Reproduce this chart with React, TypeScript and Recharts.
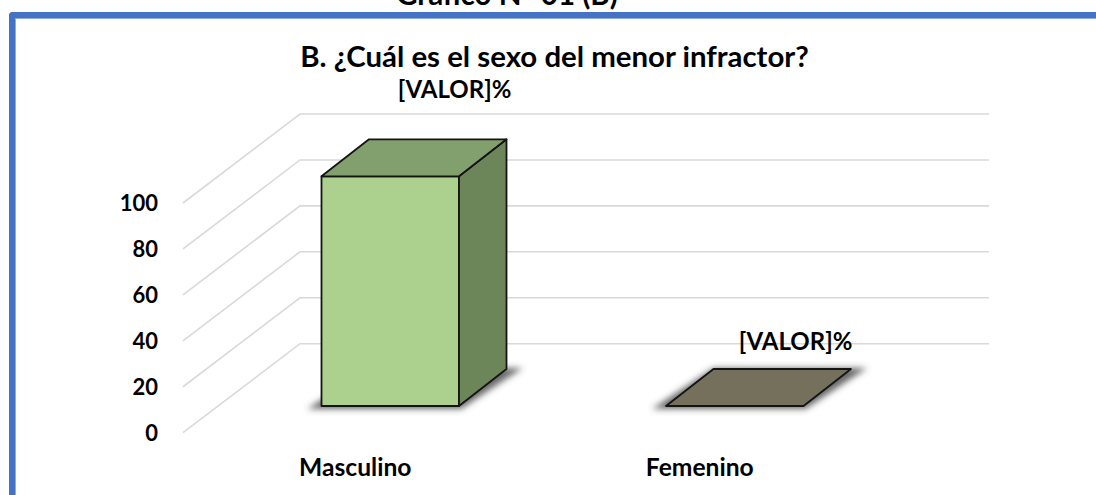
import { Bar, BarChart, CartesianGrid, LabelList, XAxis, YAxis } from 'recharts'

const categories = ['Masculino', 'Femenino']
const values = [100, 0]
const barColors = ['#acd18e', '#75705c']
const yTicks = [0, 20, 40, 60, 80, 100]
const labelText = '[VALOR]%'
// the labels were dragged by hand in the original, so each has its own offset
const labelShiftX = [133, 129.5]
const labelShiftY = [-88, -66]

const chartData = categories.map((name, i) => ({ name, value: values[i], color: barColors[i] }))

// fake 3D: how far the back wall sits from the front plane
const WALL_DX = 117
const WALL_DY = 89
// where the bars stand on the floor, and how deep they are
const BAR_DX = 34.5
const BAR_DY = 26.7
const DEPTH_DX = 47.5
const DEPTH_DY = 37

const FONT = 'Lato, "Open Sans", sans-serif'

function wallLine(props: any) {
  const { x1, y1, x2 } = props
  return (
    <polyline
      key={props.key ?? y1}
      points={`${x1},${y1} ${x1 + WALL_DX},${y1 - WALL_DY} ${x2 + WALL_DX},${y1 - WALL_DY}`}
      fill="none"
      stroke="#d9d9d9"
      strokeWidth={1.6}
    />
  )
}

function Box3D(props: any) {
  const { x, y, width, height, payload } = props
  const left = x + BAR_DX
  const right = left + width
  const top = y - BAR_DY
  const bottom = top + height
  const dx = DEPTH_DX
  const dy = DEPTH_DY
  const flat = height < 1
  const floor = `${left - 14},${bottom + 3} ${right + 2},${bottom + 3} ${right + dx + 16},${bottom - dy - 1} ${left + dx},${bottom - dy - 1}`
  return (
    <g stroke="#141414" strokeWidth={1.8} strokeLinejoin="round">
      <polygon points={floor} fill="#444" fillOpacity={0.8} stroke="none" filter="url(#boxShadow)" />
      {!flat && <rect x={left} y={top} width={width} height={height} fill={payload.color} />}
      {!flat && (
        <polygon
          points={`${right},${top} ${right + dx},${top - dy} ${right + dx},${bottom - dy} ${right},${bottom}`}
          fill="#6c8559"
        />
      )}
      <polygon
        points={`${left},${top} ${right},${top} ${right + dx},${top - dy} ${left + dx},${top - dy}`}
        fill={flat ? payload.color : '#82a06e'}
      />
    </g>
  )
}

function ValueLabel(props: any) {
  const { x, y, index } = props
  // the bar starts BAR_DX right of its band slot, shift values are from the slot's front corner
  return (
    <text
      x={x + BAR_DX + labelShiftX[index]}
      y={y - BAR_DY + labelShiftY[index]}
      textAnchor="middle"
      dominantBaseline="central"
      fontFamily={FONT}
      fontWeight={700}
      fontSize={24}
      fill="#000"
    >
      {labelText}
    </text>
  )
}

export default function App() {
  return (
    <div style={{ position: 'fixed', left: 0, top: 0, width: 1096, height: 495, overflow: 'hidden', background: '#fff' }}>
      <div
        style={{
          position: 'absolute',
          left: 0,
          right: 0,
          top: -24,
          textAlign: 'center',
          paddingRight: 82,
          fontFamily: FONT,
          fontWeight: 700,
          fontSize: 29.5,
          color: '#000',
        }}
      >
        Gráfico N° 01 (B)
      </div>
      <div
        style={{
          position: 'absolute',
          left: 9,
          top: 12,
          width: 1200,
          height: 600,
          boxSizing: 'border-box',
          borderLeft: '6px solid #4472c4',
          borderTop: '6px solid #4472c4',
          borderTopLeftRadius: 4,
          boxShadow: 'inset 1px 1px 0 #8faadc',
        }}
      />
      <div
        style={{
          position: 'absolute',
          left: 0,
          right: 0,
          top: 38,
          textAlign: 'center',
          paddingLeft: 13,
          fontFamily: FONT,
          fontWeight: 700,
          fontSize: 29.4,
          color: '#000',
        }}
      >
        B. ¿Cuál es el sexo del menor infractor?
      </div>
      <div style={{ position: 'absolute', left: 0, top: 0 }}>
        <BarChart
          width={1096}
          height={495}
          data={chartData}
          barCategoryGap={0}
          margin={{ top: 203, right: 224, bottom: 2.3, left: 123 }}
        >
          <defs>
            <filter id="boxShadow" x="-20%" y="-50%" width="140%" height="200%">
              <feGaussianBlur stdDeviation="3" />
            </filter>
          </defs>
          <CartesianGrid horizontal={wallLine} vertical={false} />
          <XAxis
            dataKey="name"
            height={60}
            axisLine={false}
            tickLine={false}
            tickMargin={20}
            interval={0}
            tick={{ fill: '#000', fontFamily: FONT, fontWeight: 700, fontSize: 24.6 }}
          />
          <YAxis
            domain={[0, 100]}
            ticks={yTicks}
            width={60}
            axisLine={false}
            tickLine={false}
            tickMargin={19}
            tick={{ fill: '#000', fontFamily: FONT, fontWeight: 700, fontSize: 22 }}
          />
          <Bar dataKey="value" barSize={137.5} shape={Box3D} isAnimationActive={false}>
            <LabelList dataKey="value" content={ValueLabel} />
          </Bar>
        </BarChart>
      </div>
    </div>
  )
}
